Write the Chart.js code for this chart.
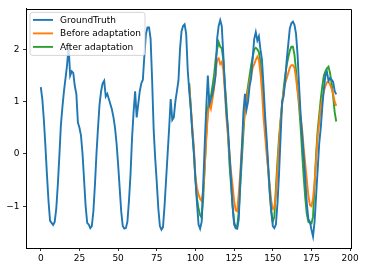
<!DOCTYPE html>
<html><head><meta charset="utf-8">
<script src="https://cdn.jsdelivr.net/npm/chart.js@4"></script>
<style>html,body{margin:0;padding:0;background:#fff;overflow:hidden}</style>
</head><body>
<canvas id="c" width="365" height="270"></canvas>
<script>
const groundTruth = [
  1.28, 1.05, 0.65, 0.15, -0.4, -0.9, -1.28, -1.32, -1.36, -1.3,
  -1.05, -0.6, -0.05, 0.55, 0.9, 1.2, 1.45, 1.7, 2.05, 1.5,
  1.58, 1.55, 1.3, 1.15, 0.6, 0.5, 0.35, 0.0, -0.5, -1.0,
  -1.32, -1.35, -1.42, -1.38, -1.1, -0.6, 0.0, 0.5, 0.95, 1.2,
  1.35, 1.4, 1.1, 1.15, 1.05, 0.95, 0.85, 0.7, 0.5, 0.2,
  -0.2, -0.65, -1.1, -1.38, -1.43, -1.42, -1.3, -0.9, -0.4, 0.3,
  0.8, 1.2, 0.7, 0.95, 1.2, 1.35, 1.42, 1.9, 2.3, 2.42,
  2.42, 2.2, 1.4, 0.45, -0.1, -0.55, -1.05, -1.38, -1.45, -1.4,
  -1.0, -0.5, 0.0, 0.5, 1.05, 0.65, 0.7, 1.0, 1.2, 1.4,
  2.0, 2.35, 2.45, 2.48, 2.3, 1.6, 1.2, 0.85, 0.4, 0.0,
  -0.5, -0.95, -1.35, -1.43, -1.3, -0.6, 0.2, 0.9, 1.5, 0.95,
  1.05, 1.15, 1.3, 1.5, 2.2, 2.45, 2.56, 2.45, 1.9, 1.3,
  0.8, 0.5, 0.0, -0.5, -1.0, -1.35, -1.42, -1.43, -1.25, -0.5,
  0.1, 0.8, 1.15, 0.85, 1.0, 1.3, 1.45, 1.85, 2.2, 2.33,
  2.17, 2.25, 2.0, 1.8, 1.3, 0.75, 0.3, -0.2, -0.7, -1.1,
  -1.38, -1.42, -1.35, -0.95, -0.4, 0.3, 1.0, 1.1, 1.4, 1.8,
  2.1, 2.4, 2.5, 2.53, 2.47, 2.3, 1.9, 1.3, 0.75, 0.35,
  -0.05, -0.5, -0.95, -1.25, -1.3, -1.45, -1.58, -1.3, -0.8, -0.3,
  0.2, 0.5, 0.9, 1.25, 1.5, 1.57, 1.4, 1.45, 1.42, 1.38,
  1.2, 1.14
];
const beforeAdaptation = [
  1.3, 0.9, 0.5, 0.12, -0.45, -0.65, -0.78, -0.86, -0.9, -0.7,
  -0.25, 0.3, 0.75, 0.98, 0.87, 1.05, 1.25, 1.55, 1.8, 1.83,
  1.72, 1.76, 1.6, 1.2, 0.7, 0.35, 0.0, -0.35, -0.6, -0.9,
  -1.08, -1.1, -0.75, -0.35, 0.15, 0.55, 0.85, 1.0, 1.2, 1.38,
  1.5, 1.65, 1.72, 1.8, 1.86, 1.8, 1.55, 1.2, 0.7, 0.35,
  0.0, -0.3, -0.6, -0.9, -1.05, -1.03, -0.8, -0.3, 0.2, 0.6,
  0.95, 1.2, 1.35, 1.45, 1.55, 1.65, 1.7, 1.7, 1.65, 1.45,
  1.2, 1.0, 0.7, 0.45, 0.1, -0.2, -0.5, -0.8, -0.98, -1.0,
  -0.85, -0.55, -0.1, 0.35, 0.6, 0.9, 1.05, 1.2, 1.3, 1.37,
  1.38, 1.33, 1.25, 1.15, 1.0, 0.92
];
const afterAdaptation = [
  1.35, 0.88, 0.42, 0.02, -0.5, -0.85, -1.05, -1.17, -1.22, -0.85,
  -0.25, 0.35, 0.85, 1.1, 1.1, 1.3, 1.5, 1.8, 2.0, 2.14,
  2.05, 2.02, 1.8, 1.35, 0.95, 0.4, -0.2, -0.6, -1.0, -1.3,
  -1.4, -1.38, -1.1, -0.6, -0.1, 0.4, 0.85, 1.1, 1.3, 1.5,
  1.7, 1.85, 2.0, 2.03, 2.0, 1.95, 1.75, 1.35, 0.95, 0.55,
  0.15, -0.3, -0.75, -1.1, -1.3, -1.2, -0.65, -0.15, 0.3, 0.65,
  0.95, 1.25, 1.5, 1.7, 1.85, 1.98, 2.05, 2.05, 1.9, 1.6,
  1.25, 0.9, 0.5, 0.0, -0.45, -0.85, -1.15, -1.3, -1.32, -1.33,
  -1.2, -0.6, 0.0, 0.45, 0.75, 1.05, 1.3, 1.5, 1.58, 1.64,
  1.67, 1.55, 1.35, 1.1, 0.8, 0.62
];
const predictionStart = 96;
const seriesLabels = ['GroundTruth', 'Before adaptation', 'After adaptation'];
const seriesColors = ['#1f77b4', '#ff7f0e', '#2ca02c'];
const xTicks = [0, 25, 50, 75, 100, 125, 150, 175, 200];
const yTicks = [-1, 0, 1, 2];

const FONT = '"DejaVu Sans", sans-serif';
const FS = 9;

function toPoints(arr, start) { return arr.map((v, i) => ({x: start + i, y: v})); }

const legendPlugin = {
  id: 'mplLegend',
  afterDraw(chart) {
    const ctx = chart.ctx, a = chart.chartArea;
    ctx.save();
    ctx.strokeStyle = '#000'; ctx.lineWidth = 1;
    ctx.beginPath();
    ctx.moveTo(Math.round(a.left) + 0.5, Math.round(a.top) + 0.5);
    ctx.lineTo(Math.round(a.right) + 0.5, Math.round(a.top) + 0.5);
    ctx.lineTo(Math.round(a.right) + 0.5, Math.round(a.bottom) + 0.5);
    ctx.stroke();
    const bx = a.left + 4, by = a.top + 3.5, bw = 115, bh = 43, r = 2.5;
    ctx.beginPath();
    ctx.moveTo(bx + r, by);
    ctx.lineTo(bx + bw - r, by); ctx.arcTo(bx + bw, by, bx + bw, by + r, r);
    ctx.lineTo(bx + bw, by + bh - r); ctx.arcTo(bx + bw, by + bh, bx + bw - r, by + bh, r);
    ctx.lineTo(bx + r, by + bh); ctx.arcTo(bx, by + bh, bx, by + bh - r, r);
    ctx.lineTo(bx, by + r); ctx.arcTo(bx, by, bx + r, by, r);
    ctx.closePath();
    ctx.fillStyle = 'rgba(255,255,255,0.8)'; ctx.fill();
    ctx.strokeStyle = '#cccccc'; ctx.lineWidth = 0.8; ctx.stroke();
    ctx.font = FS + 'px ' + FONT;
    ctx.textBaseline = 'middle'; ctx.textAlign = 'left';
    chart.data.datasets.forEach((ds, i) => {
      const y = by + 7.5 + i * 13.5;
      ctx.strokeStyle = ds.borderColor; ctx.lineWidth = 1.9;
      ctx.beginPath(); ctx.moveTo(bx + 3, y); ctx.lineTo(bx + 23, y); ctx.stroke();
      ctx.fillStyle = '#000';
      ctx.fillText(ds.label, bx + 30, y + 0.5);
    });
    ctx.restore();
  }
};

const fmt = v => String(v).replace('-', '\u2212');

new Chart(document.getElementById('c'), {
  type: 'line',
  data: {
    datasets: [
      {label: seriesLabels[0], data: toPoints(groundTruth, 0), borderColor: seriesColors[0]},
      {label: seriesLabels[1], data: toPoints(beforeAdaptation, predictionStart), borderColor: seriesColors[1]},
      {label: seriesLabels[2], data: toPoints(afterAdaptation, predictionStart), borderColor: seriesColors[2]}
    ].map(d => Object.assign(d, {borderWidth: 1.9, pointRadius: 0, tension: 0, fill: false}))
  },
  options: {
    responsive: false, animation: false, devicePixelRatio: 1,
    layout: {padding: {top: 7, right: 14, left: 0, bottom: 0}},
    plugins: {legend: {display: false}, tooltip: {enabled: false}},
    scales: {
      x: {
        type: 'linear', min: -9.55, max: 200.55,
        afterBuildTicks: s => { s.ticks = xTicks.map(v => ({value: v})); },
        afterFit: s => { s.height = 22; },
        grid: {display: true, drawOnChartArea: false, drawTicks: true, tickLength: 3, tickColor: '#000', tickWidth: 0.8},
        border: {display: true, color: '#000', width: 1},
        ticks: {color: '#000', font: {family: FONT, size: FS}, padding: 2, maxRotation: 0, autoSkip: false, callback: fmt}
      },
      y: {
        type: 'linear', min: -1.8, max: 2.775,
        afterBuildTicks: s => { s.ticks = yTicks.map(v => ({value: v})); },
        afterFit: s => { s.width = 26; },
        grid: {display: true, drawOnChartArea: false, drawTicks: true, tickLength: 3, tickColor: '#000', tickWidth: 0.8},
        border: {display: true, color: '#000', width: 1},
        ticks: {color: '#000', font: {family: FONT, size: FS}, padding: 3.5, autoSkip: false, callback: fmt}
      }
    }
  },
  plugins: [legendPlugin]
});
</script>
</body></html>
